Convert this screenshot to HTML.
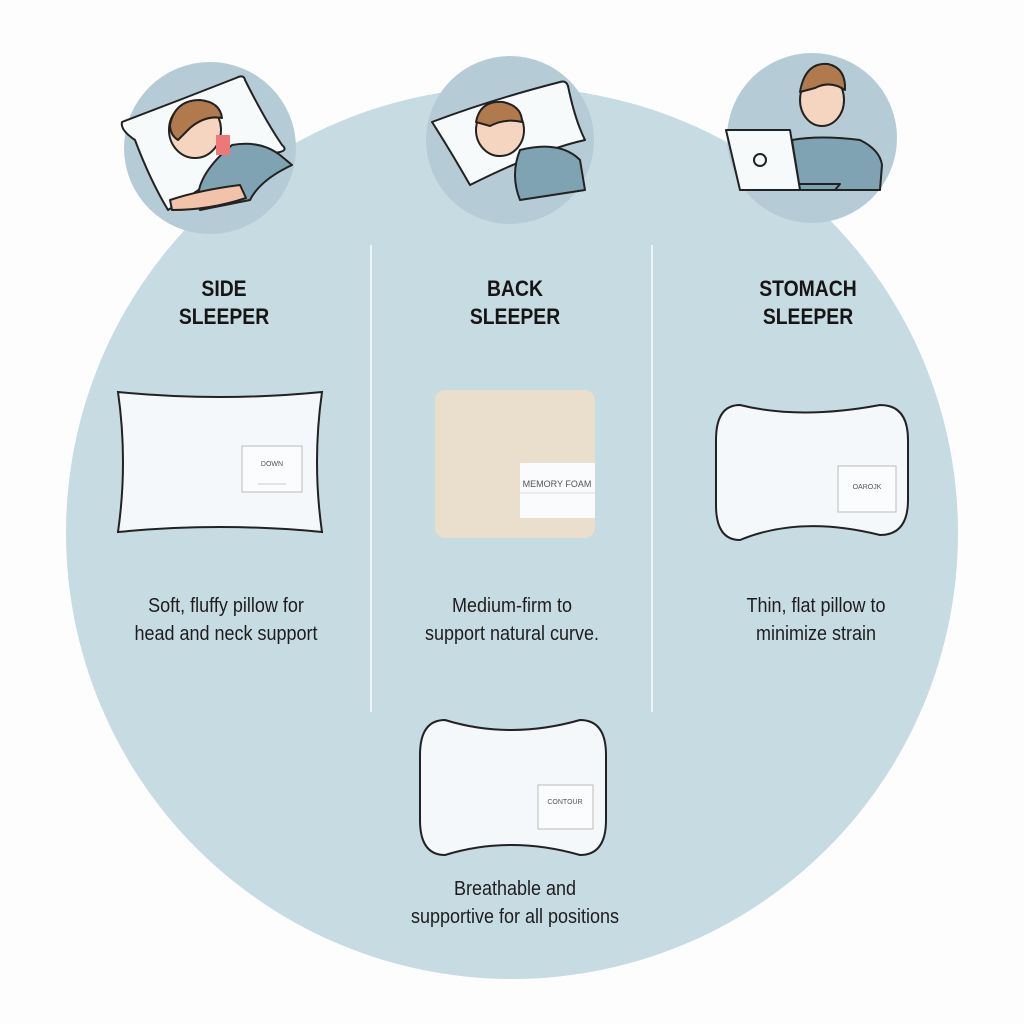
<!DOCTYPE html>
<html><head><meta charset="utf-8"><style>
html,body{margin:0;padding:0;background:#fff;}
svg{display:block}
text{font-family:"Liberation Sans","DejaVu Sans",sans-serif;}
</style></head><body>
<svg width="1024" height="1024" viewBox="0 0 1024 1024" xmlns="http://www.w3.org/2000/svg">
<rect width="1024" height="1024" fill="#fdfdfd"/>
<circle cx="512" cy="533" r="446" fill="#c7dbe2"/>
<circle cx="210" cy="148" r="86" fill="#b5ccd6"/>
<circle cx="510" cy="140" r="84" fill="#b5ccd6"/>
<circle cx="812" cy="138" r="85" fill="#b5ccd6"/>
<g stroke="#222" stroke-width="2" fill="#f7fafb" stroke-linejoin="round">
<path d="M122 122 Q180 100 236 78 Q244 74 245 80 Q265 120 282 145 Q288 150 280 152 L240 160 Q200 190 168 210 Q150 180 135 140 Q120 130 122 122Z"/>
<path d="M232 145 Q260 140 280 155 L292 165 Q260 180 250 200 L200 210 Q190 180 232 145Z" fill="#7fa3b3"/>
<path d="M170 200 Q200 190 240 185 L246 198 Q210 210 172 210Z" fill="#f2c3a8"/>
<ellipse cx="195" cy="130" rx="26" ry="28" fill="#f5d5c0"/>
<path d="M170 125 Q175 100 200 100 Q220 102 222 118 Q205 115 190 128 L178 140 Q170 135 170 125Z" fill="#b07a4e"/>
<rect x="216" y="135" width="14" height="20" fill="#e77" stroke="none"/>
</g>
<g stroke="#222" stroke-width="2" fill="#f7fafb" stroke-linejoin="round">
<path d="M432 122 Q490 100 560 82 Q566 80 568 86 Q575 120 585 140 Q540 150 470 185 Q450 150 432 122Z"/>
<path d="M520 150 Q560 140 580 160 L585 190 L520 200 Q510 175 520 150Z" fill="#7fa3b3"/>
<ellipse cx="500" cy="130" rx="24" ry="26" fill="#f5d5c0"/>
<path d="M476 122 Q480 100 503 102 Q522 106 522 122 Q505 118 490 126 Z" fill="#b07a4e"/>
</g>
<g stroke="#222" stroke-width="2" stroke-linejoin="round">
<path d="M792 140 Q820 135 860 140 Q880 150 882 165 L880 190 L800 190 Z" fill="#7fa3b3"/>
<ellipse cx="822" cy="100" rx="22" ry="26" fill="#f5d5c0"/>
<path d="M800 92 Q805 62 828 64 Q846 68 845 90 Q830 80 815 88 Z" fill="#b07a4e"/>
<path d="M726 130 L790 130 L800 190 L740 190 Z" fill="#f7fafb"/>
<path d="M740 190 L835 190 L840 184 L800 184" fill="none"/>
<circle cx="760" cy="160" r="6" fill="none"/>
</g>
<line x1="371" y1="245" x2="371" y2="712" stroke="#eef4f6" stroke-width="2"/>
<line x1="652" y1="245" x2="652" y2="712" stroke="#eef4f6" stroke-width="2"/>
<g font-size="22" font-weight="bold" fill="#151515" text-anchor="middle">
<text transform="translate(224 296) scale(0.88 1)">SIDE</text><text transform="translate(224 324) scale(0.88 1)">SLEEPER</text>
<text transform="translate(515 296) scale(0.88 1)">BACK</text><text transform="translate(515 324) scale(0.88 1)">SLEEPER</text>
<text transform="translate(808 296) scale(0.88 1)">STOMACH</text><text transform="translate(808 324) scale(0.88 1)">SLEEPER</text>
</g>
<path d="M118 392 Q220 402 322 392 Q312 462 322 532 Q220 522 118 532 Q128 462 118 392Z" fill="#f4f8fa" stroke="#222" stroke-width="2"/>
<rect x="242" y="446" width="60" height="46" fill="#fbfcfd" stroke="#bbb"/>
<text x="272" y="466" font-size="7" fill="#555" text-anchor="middle">DOWN</text>
<line x1="258" y1="484" x2="286" y2="484" stroke="#ccc"/>
<rect x="435" y="390" width="160" height="148" rx="10" fill="#e9dfcc"/>
<rect x="520" y="463" width="75" height="55" fill="#fafbfc"/>
<line x1="520" y1="493" x2="595" y2="493" stroke="#ddd"/>
<text x="557" y="487" font-size="9" fill="#555" text-anchor="middle">MEMORY FOAM</text>
<path d="M740 405 Q800 420 880 405 Q908 405 908 440 L908 500 Q908 535 880 535 Q800 515 740 540 Q716 540 716 505 L716 440 Q716 405 740 405Z" fill="#f4f8fa" stroke="#222" stroke-width="2"/>
<rect x="838" y="466" width="58" height="46" fill="#fbfcfd" stroke="#bbb"/>
<text x="867" y="489" font-size="7" fill="#555" text-anchor="middle">OAROJK</text>
<path d="M445 720 Q510 740 580 720 Q606 720 606 755 L606 820 Q606 855 580 855 Q510 835 445 855 Q420 855 420 820 L420 755 Q420 720 445 720Z" fill="#f4f8fa" stroke="#222" stroke-width="2"/>
<rect x="538" y="785" width="55" height="44" fill="#fbfcfd" stroke="#bbb"/>
<text x="565" y="804" font-size="7" fill="#555" text-anchor="middle">CONTOUR</text>
<g font-size="20" fill="#1d1d1d" text-anchor="middle">
<text transform="translate(226 612) scale(0.9 1)">Soft, fluffy pillow for</text><text transform="translate(226 640) scale(0.9 1)">head and neck support</text>
<text transform="translate(512 612) scale(0.9 1)">Medium-firm to</text><text transform="translate(512 640) scale(0.9 1)">support natural curve.</text>
<text transform="translate(816 612) scale(0.9 1)">Thin, flat pillow to</text><text transform="translate(816 640) scale(0.9 1)">minimize strain</text>
<text transform="translate(515 895) scale(0.9 1)">Breathable and</text><text transform="translate(515 923) scale(0.9 1)">supportive for all positions</text>
</g>
</svg>
</body></html>
